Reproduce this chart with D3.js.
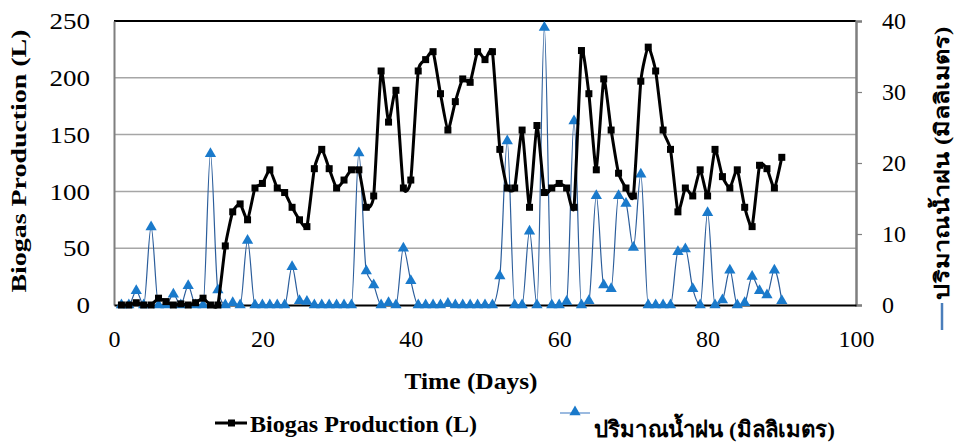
<!DOCTYPE html>
<html>
<head>
<meta charset="utf-8">
<script src="https://cdn.jsdelivr.net/npm/d3@7"></script>
<style>
  html, body { margin: 0; padding: 0; background: #fff; }
  svg { display: block; }
  text { font-family: "Liberation Serif", "Times New Roman", serif; fill: #000; }
</style>
</head>
<body>
<svg id="chart" width="960" height="443"></svg>
<script>
// Daily observations, day 1..90
const days = d3.range(1, 91);

// Biogas production (L), left axis
const biogas = [
  0, 0, 2, 0, 0, 6, 3, 0, 1, 0, 2, 6, 0, 0,
  52, 82, 89, 75, 103, 107, 119, 103, 99, 86, 75, 69, 120, 137, 120, 103,
  110, 119, 119, 86, 96, 206, 161, 189, 103, 110, 206, 216, 223, 186, 154,
  179, 199, 196, 223, 216, 223, 137, 103, 103, 154, 86, 158, 99, 103, 107,
  103, 86, 224, 186, 119, 199, 154, 116, 103, 96, 197, 227, 206, 154, 137,
  82, 103, 96, 119, 96, 137, 113, 103, 119, 86, 69, 123, 120, 103, 130
];

// Rainfall (mm), right axis
const rain = [
  0, 0, 2, 0, 11, 0, 0, 1.5, 0, 2.7, 0, 0, 21.3, 2.1, 0, 0.3, 0, 9.1, 0, 0,
  0, 0, 0, 5.4, 0.6, 0.5, 0, 0, 0, 0, 0, 0, 21.4, 4.8, 2.8, 0, 0.3, 0, 8, 3.4,
  0, 0, 0, 0, 0.2, 0, 0, 0, 0, 0, 0, 4.1, 23.1, 0, 0, 10.4, 0, 39.1, 0, 0,
  0.5, 25.9, 0, 0.6, 15.4, 2.8, 2.3, 15.4, 14.3, 8.1, 18.4, 0, 0, 0, 0, 7.5,
  7.9, 2.3, 0, 13, 0, 0.7, 4.9, 0, 0.3, 4, 2, 1.4, 4.9, 0.6
];

const xTicks = [0, 20, 40, 60, 80, 100];
const yLeftTicks = [0, 50, 100, 150, 200, 250];
const yRightTicks = [0, 10, 20, 30, 40];

const labels = {
  x: "Time (Days)",
  yLeft: "Biogas Production (L)",
  yRight: "ปริมาณน้ำฝน (มิลลิเมตร)",
  biogas: "Biogas Production (L)",
  rain: "ปริมาณน้ำฝน (มิลลิเมตร)"
};

const plot = { left: 114, right: 856, top: 21, bottom: 305 };
const svg = d3.select("#chart");

const x = d3.scaleLinear().domain([0, 100]).range([plot.left, plot.right]);
const yL = d3.scaleLinear().domain([0, 250]).range([plot.bottom, plot.top]);
const yR = d3.scaleLinear().domain([0, 40]).range([plot.bottom, plot.top]);

const rainBlue = "#1a7acb";
const rainLine = "#2b5d9b";

// horizontal gridlines
svg.append("g").selectAll("line")
  .data(yLeftTicks.filter(t => t > 0 && t < 250))
  .join("line")
  .attr("x1", plot.left).attr("x2", plot.right)
  .attr("y1", d => yL(d)).attr("y2", d => yL(d))
  .attr("stroke", "#a6a6a6").attr("stroke-width", 1.5);

// top frame edge
svg.append("line")
  .attr("x1", plot.left).attr("x2", plot.right)
  .attr("y1", plot.top).attr("y2", plot.top)
  .attr("stroke", "#000").attr("stroke-width", 2);

// left axis
const gL = svg.append("g").attr("transform", `translate(${plot.left},0)`)
  .call(d3.axisLeft(yL).tickValues(yLeftTicks).tickSize(0).tickPadding(24));
gL.select(".domain").attr("stroke", "#7f7f7f").attr("stroke-width", 2);
gL.selectAll("text").style("font-size", "24px")
  .attr("textLength", d => String(d).length * 13.5)
  .attr("lengthAdjust", "spacingAndGlyphs");

// right axis
const gR = svg.append("g").attr("transform", `translate(${plot.right},0)`)
  .call(d3.axisRight(yR).tickValues(yRightTicks).tickSize(6).tickPadding(20));
gR.select(".domain").attr("stroke", "#7f7f7f").attr("stroke-width", 2.5);
gR.selectAll(".tick line").attr("stroke", "#7f7f7f").attr("stroke-width", 1.2);
gR.selectAll("text").style("font-size", "24px");

// bottom axis
const gB = svg.append("g").attr("transform", `translate(0,${plot.bottom})`)
  .call(d3.axisBottom(x).tickValues(xTicks).tickSize(0).tickPadding(25));
gB.select(".domain").attr("stroke", "#000").attr("stroke-width", 2);
gB.selectAll("text").style("font-size", "24px");

// rainfall series
const rainData = days.map((d, i) => ({ day: d, v: rain[i] }));
svg.append("path")
  .datum(rainData)
  .attr("fill", "none")
  .attr("stroke", rainLine)
  .attr("stroke-width", 1.2)
  .attr("d", d3.line().x(d => x(d.day)).y(d => yR(d.v)).curve(d3.curveMonotoneX));

const tri = d3.symbol().type(d3.symbolTriangle).size(55);
svg.append("g").selectAll("path")
  .data(rainData)
  .join("path")
  .attr("transform", d => `translate(${x(d.day)},${yR(d.v)})`)
  .attr("d", tri)
  .attr("fill", rainBlue);

// biogas series
const gasData = days.map((d, i) => ({ day: d, v: biogas[i] }));
svg.append("path")
  .datum(gasData)
  .attr("fill", "none")
  .attr("stroke", "#000")
  .attr("stroke-width", 3)
  .attr("stroke-linejoin", "round")
  .attr("d", d3.line().x(d => x(d.day)).y(d => yL(d.v)).curve(d3.curveCardinal.tension(0.5)));

svg.append("g").selectAll("rect")
  .data(gasData)
  .join("rect")
  .attr("x", d => x(d.day) - 3.5)
  .attr("y", d => yL(d.v) - 3.5)
  .attr("width", 7).attr("height", 7)
  .attr("fill", "#000");

// axis titles
svg.append("text")
  .attr("transform", "translate(26,161) rotate(-90)")
  .attr("text-anchor", "middle")
  .attr("textLength", 263).attr("lengthAdjust", "spacingAndGlyphs")
  .style("font-size", "21px").style("font-weight", "bold")
  .text(labels.yLeft);

svg.append("text")
  .attr("x", 471).attr("y", 389)
  .attr("text-anchor", "middle")
  .attr("textLength", 133).attr("lengthAdjust", "spacingAndGlyphs")
  .style("font-size", "24px").style("font-weight", "bold")
  .text(labels.x);

svg.append("text")
  .attr("transform", "translate(949,163) rotate(-90)")
  .attr("text-anchor", "middle")
  .attr("textLength", 273).attr("lengthAdjust", "spacingAndGlyphs")
  .style("font-size", "20px").style("font-weight", "bold")
  .text(labels.yRight);
svg.append("line")
  .attr("x1", 942).attr("x2", 942).attr("y1", 303).attr("y2", 330)
  .attr("stroke", "#4a7ebb").attr("stroke-width", 2.5);

// legend
const lg = svg.append("g");
lg.append("line").attr("x1", 215).attr("x2", 247).attr("y1", 423).attr("y2", 423)
  .attr("stroke", "#000").attr("stroke-width", 3);
lg.append("rect").attr("x", 228).attr("y", 419.5).attr("width", 7).attr("height", 7).attr("fill", "#000");
lg.append("text").attr("x", 250).attr("y", 432)
  .attr("textLength", 227).attr("lengthAdjust", "spacingAndGlyphs")
  .style("font-size", "24px").style("font-weight", "bold")
  .text(labels.biogas);

lg.append("line").attr("x1", 560).attr("x2", 590).attr("y1", 413).attr("y2", 413)
  .attr("stroke", "#7aa3d6").attr("stroke-width", 1.5);
lg.append("path").attr("transform", "translate(575,412)").attr("d", tri).attr("fill", rainBlue);
lg.append("text").attr("x", 594).attr("y", 437)
  .attr("textLength", 241).attr("lengthAdjust", "spacingAndGlyphs")
  .style("font-size", "22px").style("font-weight", "bold")
  .text(labels.rain);
</script>
</body>
</html>
